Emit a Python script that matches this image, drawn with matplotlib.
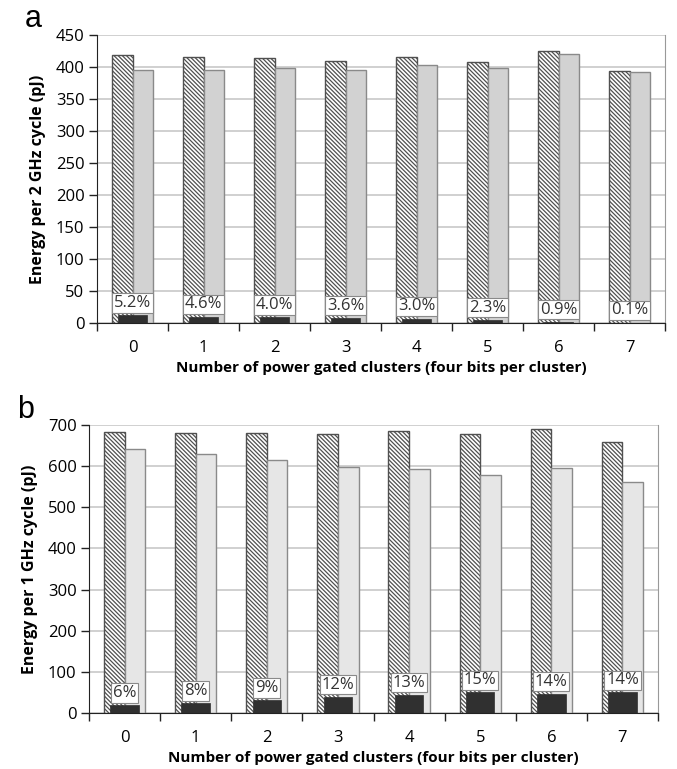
import numpy as np
import matplotlib
matplotlib.use('Agg')
import matplotlib.pyplot as plt

plt.rcParams['font.family'] = ['Open Sans', 'DejaVu Sans']
plt.rcParams['hatch.linewidth'] = 0.9

clusters = ['0', '1', '2', '3', '4', '5', '6', '7']

# panel a : 2 GHz
a_hatched = [419, 416, 414, 410, 415, 408, 425, 393]
a_gray = [396, 396, 398, 395, 403, 398, 421, 392]
a_black = [12, 10, 9, 8, 7, 5, 2, 0.5]
a_pct = ['5.2%', '4.6%', '4.0%', '3.6%', '3.0%', '2.3%', '0.9%', '0.1%']

# panel b : 1 GHz
b_hatched = [682, 681, 680, 677, 685, 679, 691, 659]
b_gray = [642, 630, 616, 599, 594, 579, 596, 562]
b_black = [19, 24, 31, 39, 44, 50, 47, 50]
b_pct = ['6%', '8%', '9%', '12%', '13%', '15%', '14%', '14%']


def panel(ax, hatched, gray, black, pct, gray_col, ymax, ystep, ylabel):
	x = np.arange(len(clusters))
	w = 0.29
	ax.bar(x - w / 2, hatched, w, color='white', edgecolor='#505050', hatch='\\\\\\\\\\\\\\\\', linewidth=1, zorder=2)
	ax.bar(x + w / 2, gray, w, color=gray_col, edgecolor='#8a8a8a', linewidth=1, zorder=2)
	ax.bar(x, black, 0.4, color='#303030', edgecolor='#303030', linewidth=0.5, zorder=3)
	for xi, v, t in zip(x, black, pct):
		ax.annotate(t, (xi, v), xytext=(0, 3), textcoords='offset points', ha='center', va='bottom',
			fontsize=12, color='#333333', zorder=4,
			bbox=dict(boxstyle='square,pad=0.1', fc='white', ec='#8a8a8a', lw=0.8))

	ax.set_xlim(-0.5, len(clusters) - 0.5)
	ax.set_ylim(0, ymax)
	ax.set_yticks(np.arange(0, ymax + 1, ystep))
	ax.set_xticks(x)
	ax.set_xticklabels(clusters)
	ax.set_xticks(np.arange(-0.5, len(clusters)), minor=True)
	ax.tick_params(axis='x', which='major', length=0, pad=12, labelsize=12)
	ax.tick_params(axis='x', which='minor', length=6, width=1, color='#222222')
	ax.tick_params(axis='y', length=6, width=1, color='#222222', labelsize=12, pad=3)
	ax.grid(axis='y', color='#c8c8c8', linewidth=1.2, zorder=0)
	ax.set_axisbelow(True)
	ax.spines['top'].set_visible(False)
	ax.spines['right'].set_color('#999999')
	ax.spines['left'].set_color('#222222')
	ax.spines['bottom'].set_color('#222222')
	ax.spines['bottom'].set_zorder(5)
	ax.set_ylabel(ylabel, fontsize=11.5, fontweight='bold', labelpad=7)
	ax.set_xlabel('Number of power gated clusters (four bits per cluster)', fontsize=11, fontweight='bold', labelpad=4)


fig = plt.figure(figsize=(6.77, 7.69), dpi=100)
ax1 = fig.add_axes([0.1433, 0.580, 0.839, 0.3745])
ax2 = fig.add_axes([0.1315, 0.0728, 0.8405, 0.3745])

panel(ax1, a_hatched, a_gray, a_black, a_pct, '#d2d2d2', 450, 50, 'Energy per 2 GHz cycle (pJ)')
panel(ax2, b_hatched, b_gray, b_black, b_pct, '#e6e6e6', 700, 100, 'Energy per 1 GHz cycle (pJ)')

fig.text(0.037, 0.965, 'a', fontsize=22, family='Liberation Sans')
fig.text(0.025, 0.457, 'b', fontsize=22, family='Liberation Sans')

fig.savefig('out.png', dpi=100)
